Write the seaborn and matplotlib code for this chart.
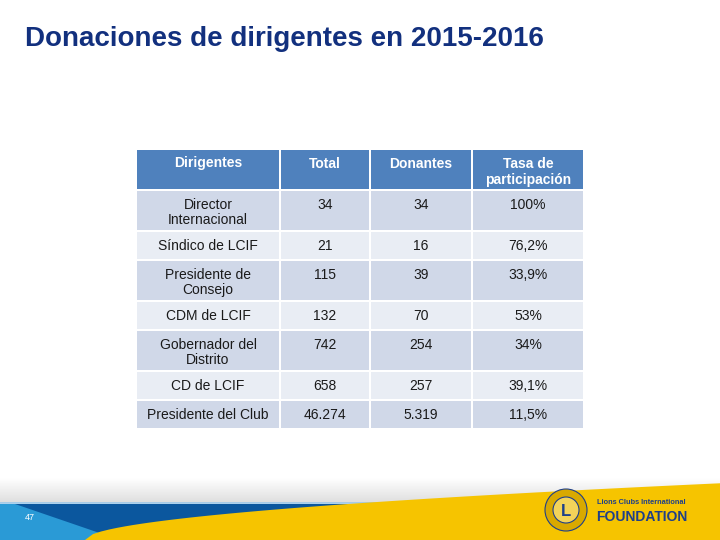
import numpy as np
import matplotlib
matplotlib.use("Agg")
import matplotlib.pyplot as plt
from matplotlib.patches import Rectangle, Polygon, Circle
import seaborn as sns

# ---------------- data ----------------
title = "Donaciones de dirigentes en 2015-2016"
headers = ["Dirigentes", "Total", "Donantes", "Tasa de\nparticipación"]
dirigentes = ["Director\nInternacional", "Síndico de LCIF", "Presidente de\nConsejo",
              "CDM de LCIF", "Gobernador del\nDistrito", "CD de LCIF", "Presidente del Club"]
total = ["34", "21", "115", "132", "742", "658", "46.274"]
donantes = ["34", "16", "39", "70", "254", "257", "5.319"]
tasa = ["100%", "76,2%", "33,9%", "53%", "34%", "39,1%", "11,5%"]
page_number = "47"

# ---------------- style ----------------
sns.set_theme(style="white")
plt.rcParams["font.family"] = ["Liberation Sans", "DejaVu Sans"]

header_color = "#4F81BD"
row_colors = ["#D0D8E8", "#E9EDF4"]
title_color = "#12307E"

fig = plt.figure(figsize=(7.2, 5.4), dpi=100)
ax = fig.add_axes([0, 0, 1, 1])
ax.set_xlim(0, 720)
ax.set_ylim(540, 0)
ax.axis("off")

ax.text(25, 39, title, fontsize=20, fontweight="bold", color=title_color,
        va="center", ha="left")

# ---------------- table ----------------
col_left = 137
col_widths = [142, 88, 100, 110]
gap = 2
header_h = 39
line_h = {1: 27, 2: 39}
top = 150

xs = [col_left]
for w in col_widths[:-1]:
    xs.append(xs[-1] + w + gap)

def draw_row(y, h, texts, color, txtcolor, weight, off, ls):
    for x, w, t in zip(xs, col_widths, texts):
        ax.add_patch(Rectangle((x, y), w, h, facecolor=color, edgecolor="none"))
        ax.text(x + w / 2, y + off, t, ha="center", va="top", fontsize=10,
                color=txtcolor, fontweight=weight, linespacing=ls)

draw_row(top, header_h, headers, header_color, "white", "bold", 6.5, 1.22)
y = top + header_h + gap
for i, row in enumerate(zip(dirigentes, total, donantes, tasa)):
    nlines = max(t.count("\n") + 1 for t in row)
    h = line_h[nlines]
    draw_row(y, h, row, row_colors[i % 2], "#1a1a1a", "normal", 7.0, 1.12)
    y += h + gap

# ---------------- footer ----------------
grad = np.linspace(0, 1, 50)[:, None] * np.ones((1, 10))
ax.imshow(grad, extent=(0, 720, 503, 478), cmap=matplotlib.colors.LinearSegmentedColormap.from_list(
    "g", ["#ffffff", "#dedede"]), aspect="auto", zorder=1)
ax.plot([0, 720], [503, 503], color="#9cc8ea", lw=1.2, zorder=2)
ax.add_patch(Polygon([(0, 504), (720, 504), (720, 540), (0, 540)], closed=True,
                     facecolor="#0B579E", edgecolor="none", zorder=2))
ax.add_patch(Polygon([(0, 504), (15, 504), (120, 540), (0, 540)], closed=True,
                     facecolor="#2A9AD6", edgecolor="none", zorder=3))
yx = np.linspace(85, 720, 80)
yy = 540 - 2.03 * (yx - 85) ** 0.516
ax.add_patch(Polygon(list(zip(yx, yy)) + [(720, 540)], closed=True,
                     facecolor="#F6C400", edgecolor="none", zorder=4))
ax.text(30, 518, page_number, fontsize=6.5, color="white", va="center", ha="center", zorder=5)

# logo
ax.add_patch(Circle((566, 510), 21, facecolor="#D9A900", edgecolor="#1e3f8a", lw=0.8, zorder=5))
ax.add_patch(Circle((566, 510), 13, facecolor="#F3D35A", edgecolor="#1e3f8a", lw=0.8, zorder=6))
ax.text(566, 511, "L", fontsize=12, fontweight="bold", color="#1e3f8a", ha="center",
        va="center", zorder=7)
ax.text(597, 503, "Lions Clubs International", fontsize=5.3, fontweight="bold",
        color="#1e3f8a", ha="left", va="center", zorder=7)
ax.text(596, 517, "FOUNDATION", fontsize=10, fontweight="bold", color="#1e3f8a",
        ha="left", va="center", zorder=7)

fig.savefig("out.png", dpi=100)
